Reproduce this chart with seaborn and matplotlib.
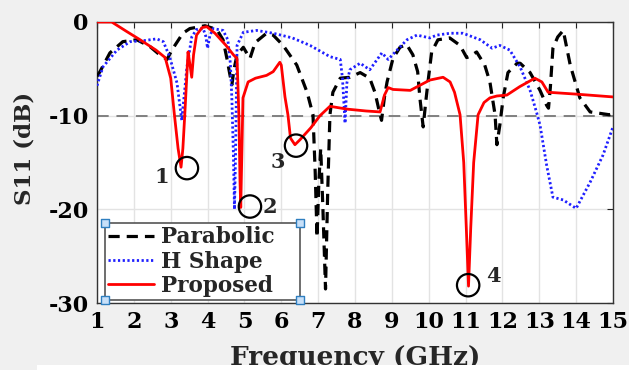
import numpy as np
import pandas as pd
import matplotlib
matplotlib.use("Agg")
import matplotlib.pyplot as plt
from matplotlib.patches import Rectangle
import seaborn as sns

# ---------------- data ----------------
freq_parabolic = [1.0, 1.08, 1.35, 1.7, 2.08, 2.43, 2.7, 2.9, 3.03, 3.33, 3.52, 3.93, 4.25, 4.42,
                  4.53, 4.6, 4.66, 4.72, 4.8, 4.97, 5.15, 5.29, 5.6, 5.78, 6.05, 6.42, 6.7, 6.86,
                  6.92, 6.97, 7.02, 7.07, 7.13, 7.2, 7.26, 7.32, 7.4, 7.6, 7.86, 8.14, 8.4, 8.54,
                  8.68, 8.72, 8.8, 8.87, 9.03, 9.22, 9.4, 9.57, 9.7, 9.76, 9.85, 9.92, 9.98, 10.08,
                  10.25, 10.57, 10.85, 11.03, 11.1, 11.3, 11.52, 11.66, 11.8, 11.85, 11.93, 12.02,
                  12.15, 12.4, 12.48, 12.75, 13.02, 13.2, 13.25, 13.3, 13.37, 13.5, 13.65, 13.84,
                  14.1, 14.38, 14.9, 15.0]
s11_parabolic = [-5.8, -5.3, -3.3, -2.1, -1.9, -2.6, -3.5, -4.0, -3.0, -1.2, -0.7, -0.4, -0.8, -1.9,
                 -4.0, -5.5, -6.7, -5.0, -3.5, -2.7, -3.9, -2.2, -1.2, -1.4, -2.5, -4.6, -7.5, -9.9,
                 -16.0, -23.0, -17.0, -13.5, -20.0, -28.5, -18.0, -9.9, -7.5, -6.0, -5.9, -5.4, -6.0, -7.5,
                 -9.9, -10.5, -8.0, -6.4, -3.9, -2.7, -2.4, -3.5, -5.3, -8.1, -11.2, -8.5, -6.4, -3.2,
                 -1.9, -1.7, -2.5, -3.8, -3.7, -3.2, -4.6, -6.4, -9.9, -13.1, -11.0, -8.1,
                 -5.4, -4.4, -4.4, -5.4, -7.3, -8.9, -9.2, -7.0, -2.8, -1.6, -0.9, -4.6,
                 -8.1, -9.6, -9.9, -9.8]

freq_hshape = [1.0, 1.16, 1.54, 1.9, 2.25, 2.62, 2.8, 2.97, 3.17, 3.3, 3.44, 3.57, 3.7, 3.88, 3.95,
               4.0, 4.06, 4.15, 4.42, 4.55, 4.62, 4.66, 4.7, 4.73, 4.76, 4.8, 4.97, 5.33, 5.78,
               6.3, 6.78, 7.32, 7.6, 7.66, 7.73, 7.78, 7.86, 8.14, 8.4, 8.73, 8.9, 9.14, 9.41,
               9.68, 10.03, 10.22, 10.58, 10.93, 11.4, 11.72, 11.93, 12.2, 12.48, 12.75, 12.93,
               13.02, 13.2, 13.37, 13.65, 14.0, 14.38, 14.73, 15.0]
s11_hshape = [-6.8, -4.8, -3.0, -2.1, -2.0, -1.8, -2.1, -3.7, -6.5, -10.5, -4.8, -1.6, -0.8, -0.7, -1.5,
              -2.8, -1.5, -0.7, -0.9, -1.9, -4.5, -8.3, -14.0, -20.0, -14.0, -2.5, -1.1, -0.9, -1.2,
              -1.7, -2.5, -3.7, -4.0, -6.0, -10.8, -6.5, -5.1, -4.4, -5.1, -3.3, -4.0, -3.0, -1.9,
              -1.4, -1.7, -1.4, -1.2, -1.2, -1.9, -2.8, -2.5, -3.0, -4.8, -7.3, -9.7,
              -11.0, -15.3, -18.7, -19.0, -19.9, -17.1, -14.2, -11.2]

freq_proposed = [1.0, 1.4, 1.8, 2.17, 2.6, 2.85, 3.0, 3.1, 3.2, 3.28, 3.33, 3.38, 3.44, 3.47, 3.52,
                 3.57, 3.62, 3.7, 3.85, 3.98, 4.2, 4.5, 4.7, 4.8, 4.85, 4.88, 4.9, 4.93, 4.96, 5.1,
                 5.3, 5.6, 5.78, 5.96, 6.0, 6.1, 6.18, 6.25, 6.37, 6.5, 6.8, 7.05, 7.32, 7.78, 8.3,
                 8.68, 8.8, 8.9, 9.03, 9.5, 10.03, 10.39, 10.58, 10.7, 10.85, 10.95, 11.02, 11.08,
                 11.14, 11.22, 11.34, 11.5, 11.66, 11.85, 12.12, 12.47, 12.88, 13.07, 13.24, 14.0, 15.0]
s11_proposed = [0.0, 0.0, -1.0, -1.9, -3.0, -3.8, -6.0, -9.9, -13.5, -15.5, -13.5, -10.0, -5.5, -3.2, -4.5,
                -5.9, -3.5, -1.4, -0.6, -0.5, -1.2, -2.5, -3.5, -3.9, -10.0, -17.0, -19.8, -14.0, -8.1, -6.4,
                -6.0, -5.7, -5.3, -4.3, -4.6, -8.0, -9.9, -12.4, -13.1, -12.6, -11.3, -10.0, -9.0, -9.3, -9.5,
                -9.6, -7.8, -7.0, -7.2, -7.3, -6.2, -5.9, -6.4, -7.5, -9.9, -15.0, -22.0, -28.2,
                -22.0, -15.0, -9.9, -8.6, -8.1, -7.9, -7.8, -6.9, -6.0, -6.4, -7.5, -7.7, -8.0]

marker_freq = [3.44, 5.15, 6.4, 11.07]
marker_s11 = [-15.6, -19.7, -13.2, -28.1]
marker_labels = ["1", "2", "3", "4"]
label_freq = [2.76, 5.7, 5.9, 11.75]
label_s11 = [-16.6, -19.7, -15.0, -27.1]

x_ticks = list(range(1, 16))
y_ticks = [0, -10, -20, -30]

# ---------------- style ----------------
sns.set_style("white")
plt.rcParams['font.family'] = ['DejaVu Serif']
plt.rcParams['font.weight'] = 'bold'
plt.rcParams['axes.labelweight'] = 'bold'

fig = plt.figure(figsize=(6.29, 3.70), dpi=100, facecolor='#f0f0f0')
ax = fig.add_axes([97 / 629, 1 - 303 / 370, 516 / 629, 281 / 370])
ax.set_facecolor('white')

df_p = pd.DataFrame({"f": freq_parabolic, "s": s11_parabolic})
df_h = pd.DataFrame({"f": freq_hshape, "s": s11_hshape})
df_r = pd.DataFrame({"f": freq_proposed, "s": s11_proposed})

ax.grid(True, color='#e3e3e3', lw=1, zorder=0)
ax.axhline(-10, color='#808080', lw=1.4, ls=(0, (6, 4)), zorder=1)

sns.lineplot(data=df_p, x="f", y="s", ax=ax, color='black', lw=2.3, estimator=None,
             linestyle=(0, (3.5, 2.2)), label='Parabolic', zorder=3)
sns.lineplot(data=df_h, x="f", y="s", ax=ax, color='#1f1fff', lw=2.0, estimator=None,
             linestyle=(0, (0.8, 0.9)), label='H Shape', zorder=3)
sns.lineplot(data=df_r, x="f", y="s", ax=ax, color='#ff0000', lw=2.0, estimator=None,
             label='Proposed', zorder=4)

ax.scatter(marker_freq, marker_s11, s=260, facecolors='none', edgecolors='black',
           linewidths=1.6, zorder=5)
for xf, ys, t in zip(label_freq, label_s11, marker_labels):
    ax.text(xf, ys, t, fontsize=15, fontweight='bold', ha='center', va='center', zorder=6)

ax.set_xlim(1, 15)
ax.set_ylim(-30, 0)
ax.set_xticks(x_ticks)
ax.set_xticklabels([str(t) for t in x_ticks])
ax.set_yticks(y_ticks)
ax.set_yticklabels([str(t) for t in y_ticks])
ax.tick_params(direction='in', top=True, right=True, length=4, width=0.8,
               labelsize=16, colors='#222222', pad=6)
for lab in ax.get_xticklabels() + ax.get_yticklabels():
    lab.set_fontweight('bold')
    lab.set_color('black')
for sp in ax.spines.values():
    sp.set_color('#333333')
    sp.set_linewidth(1.0)

ax.set_xlabel('Frequency (GHz)', fontsize=19, fontweight='bold')
ax.xaxis.set_label_coords(0.5, (303 - 357) / 281)
ax.xaxis.label.set_verticalalignment('center')
ax.set_ylabel('S11 (dB)', fontsize=16.5, fontweight='bold')
ax.yaxis.set_label_coords((24 - 97) / 516, (303 - 148) / 281)
ax.yaxis.label.set_verticalalignment('center')

handles, labels = ax.get_legend_handles_labels()
leg = ax.legend(handles, labels, loc='lower left', bbox_to_anchor=(0.016, 0.011, 0.377, 0.267),
                mode='expand', prop={'family': 'DejaVu Serif', 'weight': 'bold', 'size': 15.5},
                frameon=True, fancybox=False, framealpha=1, edgecolor='#555555',
                handlelength=2.1, handletextpad=0.35, labelspacing=0.1, borderpad=0.15,
                borderaxespad=0)
leg.get_frame().set_linewidth(1.2)
leg.set_zorder(10)

fig.canvas.draw()
bb = leg.get_window_extent().transformed(ax.transAxes.inverted())
cx = [bb.x0, bb.x1, bb.x0, bb.x1]
cy = [bb.y0, bb.y0, bb.y1, bb.y1]
ax.scatter(cx, cy, transform=ax.transAxes, marker='s', s=28, facecolors='#c8e0f8',
           edgecolors='#2f7fc0', linewidths=1.0, zorder=11, clip_on=False)

fig.patches.append(Rectangle((37 / 629, 0), 1, 5 / 370, transform=fig.transFigure,
                             facecolor='white', edgecolor='none', zorder=20))

fig.savefig('out.png', dpi=100, facecolor=fig.get_facecolor())
